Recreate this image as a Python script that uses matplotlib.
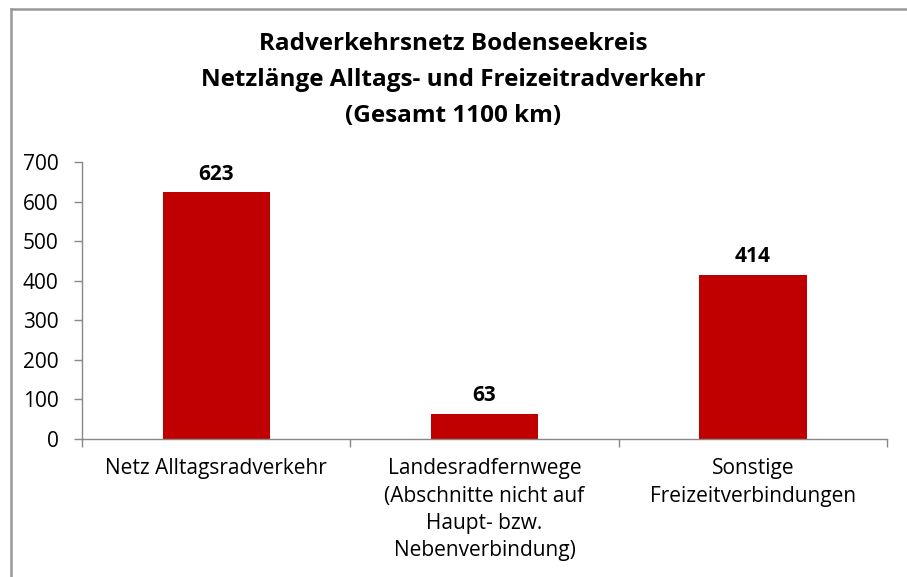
import matplotlib
matplotlib.use("Agg")
import matplotlib.pyplot as plt
from matplotlib.lines import Line2D

plt.rcParams['font.family'] = ['Open Sans', 'DejaVu Sans']

categories = ["Netz Alltagsradverkehr",
              "Landesradfernwege\n(Abschnitte nicht auf\nHaupt- bzw.\nNebenverbindung)",
              "Sonstige\nFreizeitverbindungen"]
values = [623, 63, 414]
yticks = [0, 100, 200, 300, 400, 500, 600, 700]

fig = plt.figure(figsize=(9.07, 5.77), dpi=100)
ax = fig.add_axes([82 / 907, 1 - 439 / 577, (887 - 82) / 907, (439 - 162) / 577])

x = range(len(values))
ax.bar(x, values, width=0.40, color='#C00000')
for i, v in enumerate(values):
    ax.text(i, v + 20, str(v), ha='center', va='bottom', fontsize=15,
            fontweight='bold', color='#000000')

ax.set_xlim(-0.5, len(values) - 0.5)
ax.set_ylim(0, 700)
ax.set_yticks(yticks)
ax.set_yticklabels([str(t) for t in yticks], fontsize=15)
ax.set_xticks(list(x))
ax.set_xticklabels(categories, fontsize=15, linespacing=1.38, va='top')
ax.set_xticks([-0.5, 0.5, 1.5, 2.5], minor=True)
ax.tick_params(axis='x', which='major', length=0, pad=14)
ax.tick_params(axis='x', which='minor', length=6, color='#888888', width=1)
ax.tick_params(axis='y', length=6, color='#888888', width=1, pad=11)

for s in ['top', 'right']:
    ax.spines[s].set_visible(False)
for s in ['left', 'bottom']:
    ax.spines[s].set_color('#888888')
    ax.spines[s].set_linewidth(1)

fig.text(0.5, 1 - 80 / 577, "Radverkehrsnetz Bodenseekreis\nNetzlänge Alltags- und Freizeitradverkehr\n(Gesamt 1100 km)",
         ha='center', va='center', fontsize=17.5, fontweight='bold', linespacing=1.65)

# outer chart frame (only top and left edges visible)
fig.add_artist(Line2D([11 / 907, 11 / 907], [0, 1 - 9 / 577], transform=fig.transFigure,
                      color='#999999', lw=1.8))
fig.add_artist(Line2D([11 / 907, 1], [1 - 9 / 577, 1 - 9 / 577], transform=fig.transFigure,
                      color='#999999', lw=1.8))

fig.savefig('out.png', dpi=100)
